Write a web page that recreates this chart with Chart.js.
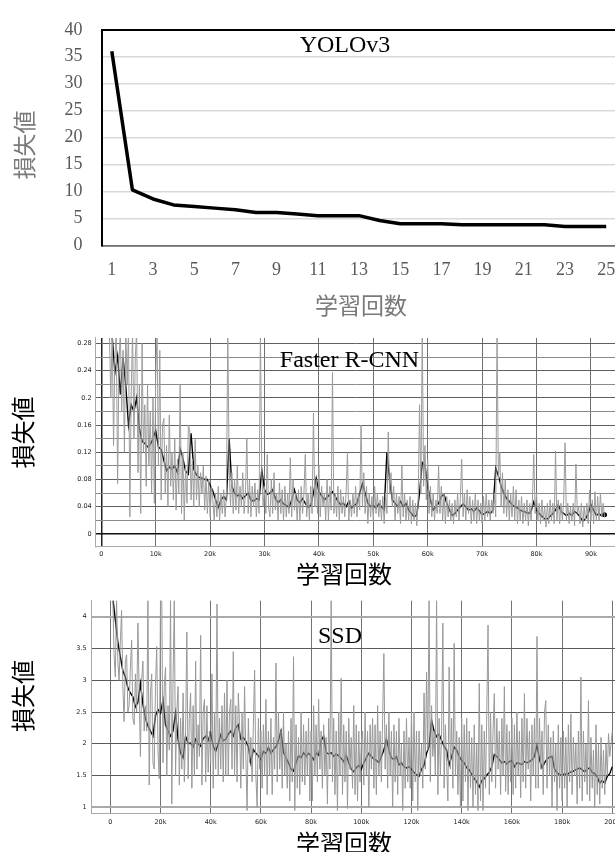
<!DOCTYPE html>
<html>
<head>
<meta charset="utf-8">
<script src="https://cdn.jsdelivr.net/npm/chart.js@4.4.1/dist/chart.umd.min.js"></script>
<style>
  html, body { margin: 0; padding: 0; background: #fff; overflow: hidden; }
  .panel { position: absolute; left: 0; width: 615px; overflow: hidden; }
  canvas { display: block; }
</style>
</head>
<body>
<div class="panel" style="top:0;height:330px"><canvas id="yoloChart" width="630" height="330"></canvas></div>
<div class="panel" style="top:330px;height:260px"><canvas id="fasterChart" width="630" height="260"></canvas></div>
<div class="panel" style="top:590px;height:262px"><canvas id="ssdChart" width="630" height="262"></canvas></div>
<script>
// YOLOv3 (epochs)
const yoloEpochs = ['1','2','3','4','5','6','7','8','9','10','11','12','13','14','15','16','17','18','19','20','21','22','23','24','25'];
const yoloLoss = [36, 10.3, 8.6, 7.5, 7.2, 6.9, 6.6, 6.1, 6.1, 5.8, 5.5, 5.5, 5.5, 4.6, 4.0, 4.0, 4.0, 3.8, 3.8, 3.8, 3.8, 3.8, 3.5, 3.5, 3.5];
const yoloTicks = [0, 5, 10, 15, 20, 25, 30, 35, 40];

// Faster R-CNN, iterations in thousands (raw every 0.25k, smoothed every 0.5k)
const fasterRawStartK = 1.5;
const fasterRawStepK = 0.25;
const fasterRawLoss = [
  0.29, 0.2, 0.3, 0.13, 0.26, 0.3, 0.074, 0.25, 0.3, 0.18, 0.27, 0.12, 0.3, 0.22, 0.3, 0.025, 0.21, 0.3, 0.14, 0.26,
  0.3, 0.09, 0.22, 0.03, 0.28, 0.12, 0.19, 0.07, 0.22, 0.1, 0.18, 0.06, 0.2, 0.045, 0.23, 0.3, 0.1, 0.27, 0.05, 0.16,
  0.17, 0.06, 0.13, 0.04, 0.175, 0.07, 0.12, 0.05, 0.14, 0.035, 0.11, 0.06, 0.22, 0.03, 0.12, 0.02, 0.1, 0.045, 0.16, 0.153,
  0.05, 0.11, 0.04, 0.139, 0.05, 0.1, 0.04, 0.09, 0.06, 0.1, 0.035, 0.085, 0.03, 0.08, 0.025, 0.07, 0.05, 0.02, 0.06, 0.025,
  0.07, 0.02, 0.06, 0.03, 0.065, 0.025, 0.055, 0.3, 0.1, 0.04, 0.09, 0.03, 0.08, 0.035, 0.1, 0.03, 0.07, 0.04, 0.09, 0.03,
  0.06, 0.14, 0.03, 0.08, 0.025, 0.07, 0.04, 0.075, 0.025, 0.065, 0.03, 0.3, 0.09, 0.04, 0.07, 0.03, 0.117, 0.04, 0.025, 0.08,
  0.03, 0.09, 0.035, 0.06, 0.02, 0.075, 0.03, 0.065, 0.02, 0.07, 0.025, 0.06, 0.03, 0.112, 0.025, 0.08, 0.035, 0.06, 0.02, 0.065,
  0.02, 0.07, 0.03, 0.06, 0.117, 0.025, 0.06, 0.02, 0.07, 0.03, 0.178, 0.04, 0.08, 0.03, 0.1, 0.025, 0.07, 0.04, 0.06, 0.02,
  0.08, 0.02, 0.07, 0.035, 0.238, 0.03, 0.06, 0.025, 0.07, 0.02, 0.065, 0.03, 0.055, 0.025, 0.06, 0.12, 0.02, 0.05, 0.025, 0.06,
  0.03, 0.07, 0.025, 0.06, 0.035, 0.16, 0.04, 0.09, 0.03, 0.07, 0.015, 0.06, 0.025, 0.055, 0.02, 0.07, 0.03, 0.06, 0.025, 0.05,
  0.02, 0.055, 0.015, 0.06, 0.03, 0.15, 0.06, 0.09, 0.04, 0.07, 0.02, 0.06, 0.03, 0.055, 0.015, 0.1, 0.025, 0.06, 0.02, 0.05,
  0.02, 0.055, 0.015, 0.05, 0.02, 0.045, 0.012, 0.05, 0.19, 0.06, 0.3, 0.07, 0.13, 0.05, 0.11, 0.03, 0.07, 0.025, 0.06, 0.02,
  0.05, 0.03, 0.1, 0.03, 0.07, 0.02, 0.06, 0.015, 0.055, 0.025, 0.05, 0.02, 0.045, 0.015, 0.05, 0.025, 0.06, 0.02, 0.05, 0.11,
  0.025, 0.06, 0.02, 0.065, 0.03, 0.055, 0.015, 0.05, 0.02, 0.06, 0.015, 0.05, 0.02, 0.045, 0.015, 0.055, 0.02, 0.06, 0.025, 0.05,
  0.02, 0.05, 0.03, 0.06, 0.025, 0.3, 0.08, 0.12, 0.04, 0.09, 0.03, 0.08, 0.025, 0.065, 0.02, 0.06, 0.025, 0.07, 0.02, 0.065,
  0.015, 0.05, 0.02, 0.055, 0.015, 0.045, 0.02, 0.05, 0.012, 0.045, 0.02, 0.05, 0.117, 0.03, 0.06, 0.02, 0.045, 0.015, 0.05, 0.02,
  0.04, 0.01, 0.045, 0.015, 0.05, 0.02, 0.045, 0.015, 0.122, 0.02, 0.05, 0.015, 0.045, 0.02, 0.05, 0.134, 0.02, 0.045, 0.015, 0.04,
  0.02, 0.045, 0.012, 0.103, 0.03, 0.04, 0.015, 0.045, 0.01, 0.04, 0.02, 0.045, 0.015, 0.064, 0.02, 0.05, 0.015, 0.062, 0.02, 0.055,
  0.02, 0.06, 0.025, 0.045, 0.025
];
const fasterSmoothStartK = 2;
const fasterSmoothStepK = 0.5;
const fasterSmoothLoss = [
  0.29, 0.237, 0.262, 0.205, 0.259, 0.218, 0.16, 0.19, 0.18, 0.2,
  0.155, 0.136, 0.133, 0.128, 0.131, 0.14, 0.152, 0.128, 0.124, 0.108,
  0.093, 0.098, 0.095, 0.1, 0.09, 0.125, 0.111, 0.092, 0.088, 0.148,
  0.095, 0.087, 0.083, 0.082, 0.08, 0.08, 0.072, 0.063, 0.05, 0.039,
  0.05, 0.055, 0.05, 0.14, 0.07, 0.06, 0.056, 0.058, 0.052, 0.056,
  0.06, 0.05, 0.048, 0.052, 0.05, 0.094, 0.065, 0.058, 0.06, 0.065,
  0.052, 0.046, 0.05, 0.044, 0.042, 0.039, 0.05, 0.065, 0.05, 0.046,
  0.052, 0.045, 0.039, 0.042, 0.06, 0.082, 0.062, 0.056, 0.05, 0.054,
  0.058, 0.062, 0.055, 0.048, 0.043, 0.045, 0.04, 0.048, 0.038, 0.042,
  0.045, 0.06, 0.074, 0.06, 0.045, 0.04, 0.042, 0.038, 0.044, 0.04,
  0.035, 0.12, 0.08, 0.05, 0.045, 0.04, 0.048, 0.04, 0.045, 0.035,
  0.03, 0.025, 0.028, 0.06, 0.105, 0.1, 0.07, 0.05, 0.035, 0.04,
  0.045, 0.055, 0.058, 0.045, 0.035, 0.027, 0.03, 0.035, 0.04, 0.044,
  0.04, 0.035, 0.037, 0.033, 0.038, 0.034, 0.028, 0.03, 0.033, 0.03,
  0.035, 0.097, 0.085, 0.07, 0.06, 0.052, 0.048, 0.043, 0.04, 0.038,
  0.035, 0.033, 0.032, 0.03, 0.033, 0.047, 0.035, 0.03, 0.026, 0.022,
  0.022, 0.026, 0.03, 0.035, 0.043, 0.033, 0.03, 0.027, 0.03, 0.027,
  0.033, 0.03, 0.025, 0.019, 0.022, 0.03, 0.043, 0.035, 0.027, 0.03,
  0.026, 0.028
];

// SSD, iterations in thousands (raw every 0.5k, smoothed every 1k)
const ssdRawStartK = 0.5;
const ssdRawStepK = 0.5;
const ssdRawLoss = [
  4.3, 4.3, 3.4, 3.05, 4.3, 3.3, 3.0, 3.6, 4.1, 2.9, 2.35, 3.3, 3.4, 2.5, 2.6, 3.2, 3.63, 2.4, 2.3, 3.1,
  2.5, 3.9, 2.8, 1.8, 3.0, 3.3, 2.2, 2.6, 2.2, 4.3, 1.35, 2.8, 3.1, 1.7, 1.6, 2.9, 3.53, 1.9, 1.45, 4.3,
  4.3, 1.7, 2.9, 3.2, 1.5, 2.6, 1.9, 4.3, 1.05, 3.0, 4.3, 1.5, 2.5, 2.9, 1.35, 2.4, 1.6, 2.8, 1.4, 2.2,
  3.76, 1.45, 2.4, 2.8, 1.3, 2.6, 1.5, 3.3, 1.6, 2.3, 1.8, 3.71, 1.35, 2.5, 2.7, 1.4, 2.6, 1.55, 2.2, 1.7,
  3.1, 1.3, 2.5, 1.6, 4.2, 1.5, 2.4, 1.6, 2.6, 1.4, 2.8, 1.5, 3.0, 1.5, 2.5, 2.7, 1.6, 3.45, 1.5, 2.6,
  1.4, 2.8, 2.3, 1.3, 2.5, 1.6, 2.9, 1.8, 0.95, 2.4, 1.7, 2.1, 1.4, 2.3, 3.16, 1.5, 1.0, 2.4, 1.6, 2.2,
  1.3, 2.3, 1.5, 2.7, 1.2, 2.2, 1.5, 2.4, 1.2, 2.1, 1.6, 3.27, 1.4, 2.5, 1.6, 2.2, 1.3, 2.5, 1.5, 2.0,
  1.3, 2.2, 1.1, 2.4, 1.4, 3.37, 0.95, 2.3, 1.3, 2.1, 1.2, 2.5, 1.4, 2.3, 1.35, 2.2, 1.5, 2.4, 1.1, 2.2,
  1.1, 2.6, 1.5, 2.3, 1.4, 2.7, 1.6, 2.2, 1.3, 2.3, 1.5, 2.1, 1.05, 2.4, 1.6, 4.3, 1.4, 2.4, 1.2, 2.2,
  0.95, 2.5, 1.5, 3.03, 1.2, 2.3, 1.4, 2.2, 0.98, 2.4, 1.6, 2.1, 1.3, 2.6, 1.2, 2.3, 1.1, 2.2, 1.4, 2.0,
  2.2, 1.35, 2.5, 1.5, 2.2, 1.0, 2.3, 1.6, 2.4, 1.3, 2.3, 1.2, 2.6, 1.5, 2.2, 1.4, 2.4, 3.42, 1.6, 2.3,
  1.3, 2.5, 1.5, 2.2, 1.0, 2.3, 1.4, 2.2, 1.2, 2.4, 1.5, 2.0, 0.95, 2.2, 1.3, 2.4, 1.4, 2.1, 1.3, 2.5,
  1.1, 2.5, 1.4, 2.2, 0.95, 2.2, 1.5, 2.0, 1.3, 2.8, 1.6, 3.13, 1.9, 4.3, 1.4, 2.6, 1.8, 2.2, 1.5, 4.3,
  1.2, 2.4, 1.5, 2.2, 3.9, 1.3, 2.3, 1.7, 1.1, 3.21, 1.6, 2.4, 1.3, 3.58, 1.5, 2.2, 1.2, 2.1, 1.0, 2.4,
  1.1, 2.3, 1.4, 2.4, 0.95, 2.2, 1.3, 2.1, 1.0, 2.3, 1.2, 2.0, 0.95, 2.95, 1.1, 2.3, 0.95, 2.2, 1.3, 2.5,
  3.87, 1.2, 2.5, 1.4, 2.2, 2.79, 1.3, 2.4, 1.6, 2.2, 1.2, 2.4, 1.5, 2.9, 1.25, 2.3, 1.2, 2.2, 1.4, 2.4,
  1.2, 2.3, 1.3, 2.5, 1.5, 2.2, 1.15, 2.4, 1.4, 2.79, 1.3, 2.4, 1.6, 2.2, 1.1, 2.3, 1.5, 2.4, 1.3, 3.69,
  1.3, 2.4, 1.6, 2.2, 1.2, 2.5, 2.68, 1.3, 2.3, 1.5, 2.1, 1.0, 2.2, 1.4, 2.0, 0.95, 2.3, 1.3, 2.1, 1.1,
  2.2, 1.3, 2.1, 1.0, 2.3, 1.4, 2.47, 1.2, 2.1, 1.5, 2.0, 1.05, 2.2, 1.3, 3.05, 1.1, 2.2, 1.4, 2.0, 1.2,
  2.68, 1.1, 2.1, 1.3, 1.9, 1.0, 2.3, 1.2, 2.0, 1.05, 2.1, 1.3, 1.9, 1.2, 2.0, 1.5, 2.16, 1.8, 2.0, 2.2
];
const ssdSmoothStartK = 1;
const ssdSmoothStepK = 1;
const ssdSmoothLoss = [
  4.3, 3.95, 3.6, 3.37, 3.15, 3.05, 2.88, 2.8, 2.74, 2.58,
  2.65, 2.95, 2.62, 2.4, 2.28, 2.2, 2.12, 2.44, 2.54, 2.48,
  2.69, 2.3, 2.2, 2.12, 2.2, 2.49, 2.07, 1.85, 1.78, 2.12,
  2.0, 2.01, 1.95, 2.07, 2.0, 1.96, 2.08, 2.12, 2.05, 2.17,
  1.96, 1.88, 2.0, 2.14, 2.05, 2.07, 2.15, 2.2, 2.12, 2.25,
  2.3, 2.07, 2.1, 2.04, 1.95, 1.7, 1.91, 1.85, 1.81, 1.75,
  1.88, 1.85, 1.94, 1.85, 1.91, 1.95, 2.05, 2.2, 1.86, 1.78,
  1.7, 1.6, 1.57, 1.7, 1.81, 1.78, 1.86, 1.8, 1.85, 1.81,
  1.75, 1.86, 1.82, 2.05, 2.12, 1.86, 1.84, 1.86, 1.8, 1.84,
  1.81, 1.77, 1.72, 1.82, 1.7, 1.6, 1.56, 1.62, 1.66, 1.6,
  1.7, 1.78, 1.85, 1.8, 1.76, 1.74, 1.7, 1.8, 1.9, 2.08,
  1.9, 1.78, 1.75, 1.8, 1.67, 1.7, 1.64, 1.62, 1.64, 1.6,
  1.55, 1.51, 1.49, 1.6, 1.66, 1.85, 1.95, 2.37, 2.2, 2.11,
  2.15, 2.05, 1.96, 1.9, 1.67, 1.8, 1.95, 1.9, 1.8, 1.74,
  1.7, 1.62, 1.59, 1.52, 1.45, 1.4, 1.32, 1.42, 1.45, 1.51,
  1.55, 1.64, 1.83, 1.8, 1.75, 1.7, 1.72, 1.68, 1.72, 1.74,
  1.64, 1.7, 1.69, 1.67, 1.72, 1.7, 1.72, 1.75, 1.8, 1.98,
  1.75, 1.62, 1.7, 1.76, 1.79, 1.8, 1.6, 1.54, 1.52, 1.5,
  1.53, 1.51, 1.55, 1.56, 1.58, 1.6, 1.62, 1.59, 1.56, 1.6,
  1.62, 1.55, 1.53, 1.48, 1.38, 1.42, 1.38, 1.49, 1.53, 1.64
];

const yTitle = '損失値';
const xTitle = '学習回数';

// draws titles placed by hand on the canvas
const panelText = {
    id: 'panelText',
    afterDraw(chart, args, opts) {
        const c = chart.ctx;
        (opts.items || []).forEach(t => {
            c.save();
            c.font = t.font;
            c.fillStyle = t.color;
            c.textAlign = 'center';
            c.textBaseline = 'middle';
            c.translate(t.x, t.y);
            if (t.rotate) c.rotate(t.rotate);
            c.fillText(t.text, 0, 0);
            c.restore();
        });
    }
};

function toPoints(values, start, step) {
    return values.map((v, i) => ({ x: start + i * step, y: v }));
}

function kLabel(v) {
    return v === 0 ? '0' : v + 'k';
}

const serif = '"Liberation Serif", "Times New Roman", serif';
const jp = '"Noto Sans CJK JP", sans-serif';
const smallFont = { family: '"DejaVu Sans", sans-serif', size: 6.5 };

// ---- YOLOv3 ----
const ctxYolo = document.getElementById('yoloChart').getContext('2d');
const yoloChart = new Chart(ctxYolo, {
    type: 'line',
    data: {
        labels: yoloEpochs,
        datasets: [{
            data: yoloLoss,
            borderColor: '#000',
            borderWidth: 3.5,
            pointRadius: 0,
            tension: 0,
            borderJoinStyle: 'round'
        }]
    },
    options: {
        responsive: false,
        animation: false,
        layout: { padding: { top: 23.3, right: 13.5, left: 0, bottom: 0 } },
        plugins: {
            legend: { display: false },
            tooltip: { enabled: false },
            panelText: {
                items: [
                    { text: 'YOLOv3', x: 345, y: 46, font: '24px ' + serif, color: '#000' },
                    { text: yTitle, x: 24, y: 145, rotate: -Math.PI / 2, font: '23px ' + jp, color: '#7a7a7a' },
                    { text: xTitle, x: 361, y: 305, font: '23px ' + jp, color: '#7a7a7a' }
                ]
            }
        },
        scales: {
            x: {
                offset: true,
                afterFit: s => { s.height = 330 - 245.3; },
                grid: { display: false, drawTicks: false },
                border: { color: '#6f6f6f', width: 1.5 },
                ticks: {
                    autoSkip: false,
                    maxRotation: 0,
                    padding: 14,
                    color: '#595959',
                    font: { family: serif, size: 18 },
                    callback: function (v, i) { return i % 2 === 0 ? this.getLabelForValue(v) : ''; }
                }
            },
            y: {
                min: yoloTicks[0],
                max: yoloTicks[yoloTicks.length - 1],
                afterFit: s => { s.width = 101.5; },
                afterBuildTicks: s => { s.ticks = yoloTicks.map(v => ({ value: v })); },
                grid: {
                    drawTicks: false,
                    color: c => c.tick.value === 40 ? '#000' : (c.tick.value === 0 ? '#6f6f6f' : '#d9d9d9'),
                    lineWidth: c => c.tick.value === 40 ? 2 : 1.5
                },
                border: { color: '#000', width: 2 },
                ticks: {
                    padding: 19,
                    color: '#595959',
                    font: { family: serif, size: 18 }
                }
            }
        }
    },
    plugins: [panelText]
});

// ---- Faster R-CNN ----
const ctxFaster = document.getElementById('fasterChart').getContext('2d');
const fasterChart = new Chart(ctxFaster, {
    type: 'line',
    data: {
        datasets: [{
            data: toPoints(fasterRawLoss, fasterRawStartK, fasterRawStepK),
            borderColor: '#9c9c9c',
            borderWidth: 1,
            pointRadius: 0,
            tension: 0
        }, {
            data: toPoints(fasterSmoothLoss, fasterSmoothStartK, fasterSmoothStepK),
            borderColor: '#000',
            borderWidth: 1.4,
            pointRadius: c => c.dataIndex === fasterSmoothLoss.length - 1 ? 2.5 : 0,
            pointBackgroundColor: '#000',
            pointBorderWidth: 0,
            tension: 0
        }]
    },
    options: {
        responsive: false,
        animation: false,
        layout: { padding: { top: 5, right: 15, left: 0, bottom: 0 } },
        plugins: {
            legend: { display: false },
            tooltip: { enabled: false },
            panelText: {
                items: [
                    { text: 'Faster R-CNN', x: 349.5, y: 31, font: '24px ' + serif, color: '#000' },
                    { text: yTitle, x: 23, y: 102.5, rotate: -Math.PI / 2, font: '24px ' + jp, color: '#000' },
                    { text: xTitle, x: 344, y: 244, font: '24px ' + jp, color: '#000' }
                ]
            }
        },
        scales: {
            x: {
                type: 'linear',
                min: -1.03,
                max: 94.43,
                afterFit: s => { s.height = 260 - 216.7; },
                grid: {
                    drawTicks: false,
                    color: c => c.tick.value === 0 ? '#222' : '#707070',
                    lineWidth: c => c.tick.value === 0 ? 1.5 : 1
                },
                border: { color: '#aaa', width: 1 },
                ticks: {
                    stepSize: 10,
                    includeBounds: false,
                    autoSkip: false,
                    maxRotation: 0,
                    padding: 4,
                    color: '#222',
                    font: smallFont,
                    callback: kLabel
                }
            },
            y: {
                min: -0.01886,
                max: 0.2883,
                afterFit: s => { s.width = 95.7; },
                grid: {
                    drawTicks: false,
                    color: c => c.tick.value === 0 ? '#111' : (Math.round(c.tick.value * 100) % 4 === 0 ? '#606060' : '#8a8a8a'),
                    lineWidth: c => c.tick.value === 0 ? 1.5 : 1
                },
                border: { color: '#aaa', width: 1 },
                ticks: {
                    stepSize: 0.02,
                    includeBounds: false,
                    padding: 4,
                    color: '#222',
                    font: smallFont,
                    callback: v => Math.round(v * 100) % 4 === 0 ? String(Number(v.toFixed(2))) : ''
                }
            }
        }
    },
    plugins: [panelText]
});

// ---- SSD ----
const ctxSsd = document.getElementById('ssdChart').getContext('2d');
const ssdChart = new Chart(ctxSsd, {
    type: 'line',
    data: {
        datasets: [{
            data: toPoints(ssdRawLoss, ssdRawStartK, ssdRawStepK),
            borderColor: '#999',
            borderWidth: 1,
            pointRadius: 0,
            tension: 0
        }, {
            data: toPoints(ssdSmoothLoss, ssdSmoothStartK, ssdSmoothStepK),
            borderColor: '#000',
            borderWidth: 1.4,
            pointRadius: 0,
            tension: 0
        }]
    },
    options: {
        responsive: false,
        animation: false,
        layout: { padding: { top: 10.7, right: 15, left: 0, bottom: 0 } },
        plugins: {
            legend: { display: false },
            tooltip: { enabled: false },
            panelText: {
                items: [
                    { text: 'SSD', x: 340, y: 46.5, font: '24px ' + serif, color: '#000' },
                    { text: yTitle, x: 23, y: 106, rotate: -Math.PI / 2, font: '24px ' + jp, color: '#000' },
                    { text: xTitle, x: 344, y: 253, font: '24px ' + jp, color: '#000' }
                ]
            }
        },
        scales: {
            x: {
                type: 'linear',
                min: -7.41,
                max: 201.08,
                afterFit: s => { s.height = 262 - 223.3; },
                grid: {
                    drawTicks: false,
                    color: '#737373',
                    lineWidth: 1
                },
                border: { color: '#aaa', width: 1 },
                ticks: {
                    stepSize: 20,
                    includeBounds: false,
                    autoSkip: false,
                    maxRotation: 0,
                    padding: 5,
                    color: '#222',
                    font: smallFont,
                    callback: kLabel
                }
            },
            y: {
                min: 0.9055,
                max: 4.252,
                afterFit: s => { s.width = 91.7; },
                grid: {
                    drawTicks: false,
                    color: c => (c.tick.value === 1 || c.tick.value === 4) ? '#aaa' : '#5a5a5a',
                    lineWidth: c => (c.tick.value === 1 || c.tick.value === 4) ? 2 : 1
                },
                border: { color: '#aaa', width: 1 },
                ticks: {
                    stepSize: 0.5,
                    includeBounds: false,
                    padding: 5,
                    color: '#222',
                    font: smallFont,
                    callback: v => String(Number(v.toFixed(1)))
                }
            }
        }
    },
    plugins: [panelText]
});
</script>
</body>
</html>
